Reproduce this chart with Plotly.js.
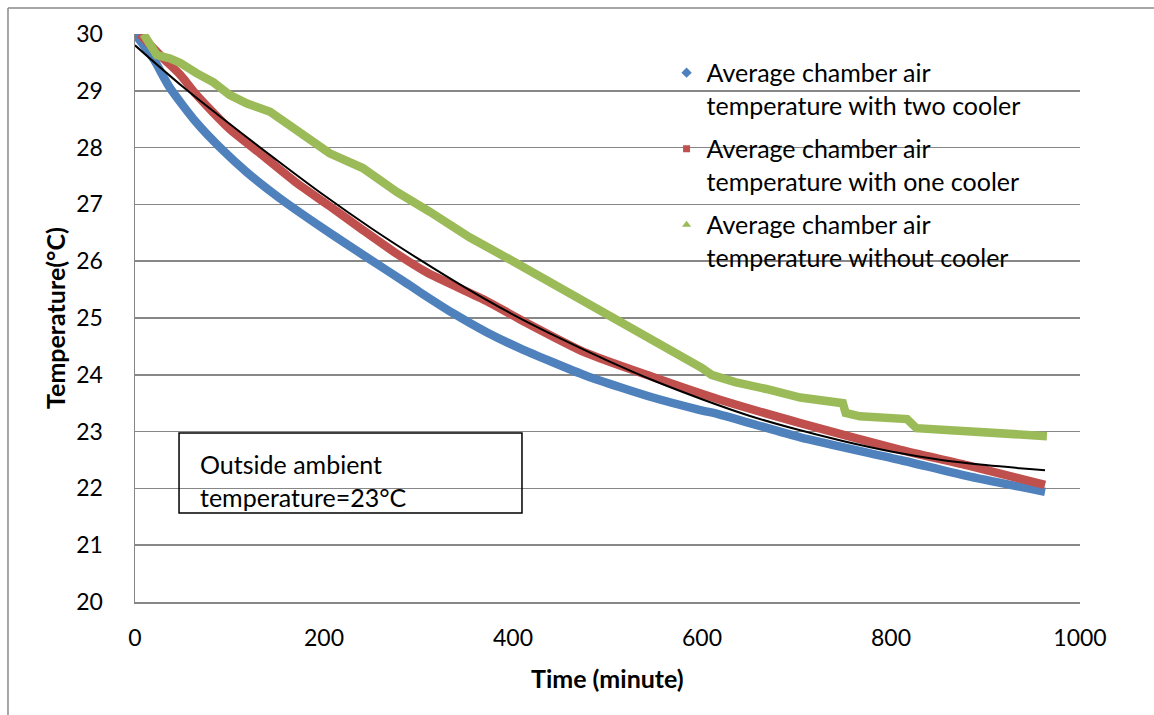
<!DOCTYPE html>
<html>
<head>
<meta charset="utf-8">
<script src="https://cdn.plot.ly/plotly-3.0.1.min.js"></script>
<style>
  html, body { margin: 0; padding: 0; background: #ffffff; }
  #chart { width: 1154px; height: 715px; }
</style>
</head>
<body>
<div id="chart"></div>
<script>
// ---- Data ----
const seriesNames = [
  "Average chamber air<br>temperature with two cooler",
  "Average chamber air<br>temperature with one cooler",
  "Average chamber air<br>temperature without cooler"
];

// Two coolers (blue)
const timeTwo = [0, 10, 20, 37, 65, 90, 118, 153, 189, 224, 259, 284, 302, 337, 372, 407, 478, 548, 598, 619, 704, 810, 880, 963];
const tempTwo = [30.0, 29.78, 29.55, 29.05, 28.44, 28.0, 27.57, 27.11, 26.69, 26.30, 25.92, 25.65, 25.45, 25.08, 24.75, 24.47, 23.98, 23.60, 23.38, 23.30, 22.90, 22.50, 22.22, 21.94];

// One cooler (red)
const timeOne = [5, 30, 48, 65, 100, 136, 171, 206, 241, 277, 309, 372, 407, 478, 548, 619, 704, 810, 880, 963];
const tempOne = [30.0, 29.57, 29.28, 28.93, 28.33, 27.85, 27.38, 26.97, 26.55, 26.13, 25.80, 25.30, 24.98, 24.38, 23.96, 23.56, 23.15, 22.68, 22.41, 22.06];

// Without cooler (green)
const timeZero = [9, 23, 37, 48, 65, 83, 100, 118, 143, 153, 178, 206, 241, 277, 312, 354, 400, 460, 508, 560, 600, 610, 635, 668, 704, 749, 752, 767, 817, 827, 880, 965];
const tempZero = [30.0, 29.63, 29.57, 29.49, 29.31, 29.15, 28.93, 28.78, 28.63, 28.52, 28.22, 27.90, 27.64, 27.22, 26.87, 26.42, 26.00, 25.44, 25.00, 24.50, 24.12, 24.00, 23.87, 23.75, 23.60, 23.50, 23.33, 23.27, 23.22, 23.06, 23.00, 22.92];

// Black trend line
const timeFit = [0, 50, 100, 150, 200, 250, 300, 350, 400, 450, 500, 550, 600, 650, 700, 750, 800, 850, 900, 963];
const tempFit = [29.80, 29.08, 28.42, 27.78, 27.16, 26.58, 26.04, 25.53, 25.06, 24.64, 24.25, 23.89, 23.57, 23.28, 23.04, 22.83, 22.65, 22.51, 22.41, 22.32];

const xTicks = [0, 200, 400, 600, 800, 1000];
const yTicks = [20, 21, 22, 23, 24, 25, 26, 27, 28, 29, 30];

const boxText = "Outside ambient<br>temperature=23°C";
const xTitle = "Time (minute)";
const yTitle = "Temperature(°C)";

// ---- Styling ----
const FONT = "Lato, 'Open Sans', sans-serif";
const colors = ["#4F81BD", "#C0504D", "#9BBB59"];
const symbols = ["diamond", "square", "triangle-up"];
const symSizes = [8, 7, 8];
const shapes = ["spline", "spline", "linear"];
const gridGray = "#878787";

const xs = [timeTwo, timeOne, timeZero];
const ys = [tempTwo, tempOne, tempZero];

const traces = [];
for (let i = 0; i < 3; i++) {
  traces.push({
    type: "scatter", mode: "lines", x: xs[i], y: ys[i],
    line: { color: colors[i], width: 8.5, shape: shapes[i], smoothing: 0.6 },
    showlegend: false, legendgroup: "g" + i, hoverinfo: "skip"
  });
}
traces.push({
  type: "scatter", mode: "lines", x: timeFit, y: tempFit,
  line: { color: "#000000", width: 2, shape: "spline" },
  showlegend: false, hoverinfo: "skip"
});
for (let i = 0; i < 3; i++) {
  traces.push({
    type: "scatter", mode: "markers", x: [null], y: [null],
    name: seriesNames[i], legendgroup: "g" + i,
    marker: { color: colors[i], symbol: symbols[i], size: symSizes[i] },
    showlegend: true
  });
}

const layout = {
  width: 1154, height: 715,
  margin: { l: 135, r: 74, t: 34, b: 113, pad: 0 },
  paper_bgcolor: "#ffffff", plot_bgcolor: "#ffffff",
  font: { family: FONT, size: 23, color: "#000000" },
  showlegend: true,
  hovermode: false,
  xaxis: {
    range: [0, 1000], tickvals: xTicks, ticktext: xTicks.map(String),
    showgrid: false, zeroline: false, showline: true,
    linecolor: gridGray, linewidth: 1.5, ticks: "",
    ticklabelstandoff: 15,
    tickfont: { family: FONT, size: 23, color: "#000000" }
  },
  yaxis: {
    range: [20, 30], tickvals: yTicks, ticktext: yTicks.map(String),
    showgrid: true, gridcolor: gridGray, gridwidth: 1.5,
    zeroline: false, showline: true,
    linecolor: gridGray, linewidth: 1.5, ticks: "",
    ticklabelstandoff: 26,
    tickfont: { family: FONT, size: 23, color: "#000000" }
  },
  legend: {
    x: 0.5625, y: 0.972, xanchor: "left", yanchor: "top",
    bgcolor: "rgba(0,0,0,0)", borderwidth: 0,
    font: { family: FONT, size: 25, color: "#000000" },
    valign: "top", tracegroupgap: 8, traceorder: "grouped"
  },
  shapes: [
    { type: "rect", xref: "paper", yref: "paper",
      x0: 0.0466, x1: 0.4095, y0: 0.1567, y1: 0.2975,
      line: { color: "#000000", width: 1.5 }, fillcolor: "rgba(0,0,0,0)" },
    { type: "line", xref: "paper", yref: "paper",
      x0: -0.1344, x1: 1.2, y0: 1.0458, y1: 1.0458,
      line: { color: "#8a8a8a", width: 1.5 } },
    { type: "line", xref: "paper", yref: "paper",
      x0: -0.1344, x1: -0.1344, y0: -0.3, y1: 1.0458,
      line: { color: "#8a8a8a", width: 1.5 } }
  ],
  annotations: [
    { text: boxText, xref: "paper", yref: "paper", x: 0.0667, y: 0.214,
      xanchor: "left", yanchor: "middle", align: "left", showarrow: false,
      font: { family: FONT, size: 25, color: "#000000" } },
    { text: "<b>" + xTitle + "</b>", xref: "paper", yref: "paper", x: 0.5, y: -0.1338,
      xanchor: "center", yanchor: "middle", showarrow: false,
      font: { family: FONT, size: 25, color: "#000000" } },
    { text: "<b>" + yTitle + "</b>", xref: "paper", yref: "paper", x: -0.0847, y: 0.5,
      xanchor: "center", yanchor: "middle", textangle: -90, showarrow: false,
      font: { family: FONT, size: 25, color: "#000000" } }
  ]
};

Plotly.newPlot("chart", traces, layout, { displayModeBar: false, staticPlot: true });
</script>
</body>
</html>
